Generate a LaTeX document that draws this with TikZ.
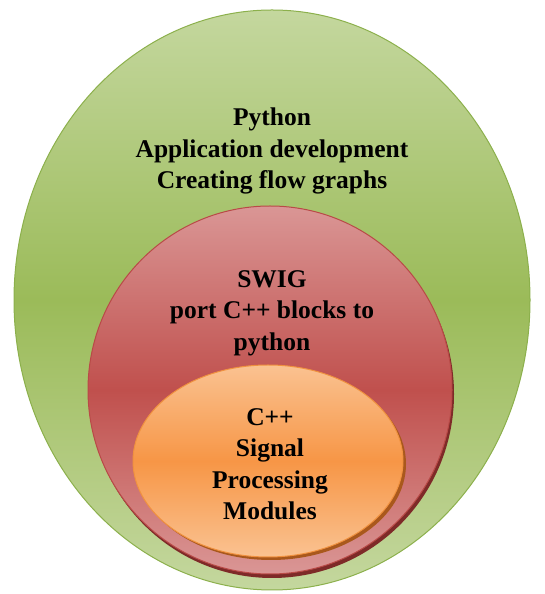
\documentclass[tikz,border=0pt]{standalone}
\usepackage{fontspec}
\setmainfont{Liberation Serif}
\usetikzlibrary{calc}

\definecolor{grnlight}{HTML}{C4D79E}
\definecolor{grnmid}{HTML}{9BBB59}
\definecolor{grnline}{HTML}{8CB04C}
\definecolor{redlight}{HTML}{DA9695}
\definecolor{redmid}{HTML}{C0504D}
\definecolor{redline}{HTML}{B94A47}
\definecolor{redshade}{HTML}{7E2A28}
\definecolor{orglight}{HTML}{FAC291}
\definecolor{orgmid}{HTML}{F79646}
\definecolor{orgline}{HTML}{F0913F}
\definecolor{orgshade}{HTML}{A9581C}

\tikzset{
  layer/.style={line width=1pt},
  label/.style={align=center, inner sep=0pt}
}

\begin{document}
\begin{tikzpicture}[x=1pt,y=1pt,font=\bfseries\fontsize{25.5}{31.5}\selectfont]
\useasboundingbox (0,0) rectangle (545,594);

\coordinate (o) at (272,294);
\coordinate (r) at (270,204);
\coordinate (c) at (268,133);

% python
\shade[layer, top color=grnlight, bottom color=grnlight, middle color=grnmid, draw=grnline]
  (o) ellipse [x radius=258, y radius=290];

% swig
\fill[redshade] ($(r)+(2,-4)$) ellipse [x radius=182, y radius=184];
\shade[layer, top color=redlight, bottom color=redlight, middle color=redmid, draw=redline]
  (r) ellipse [x radius=182, y radius=184];

% c++
\fill[orgshade] ($(c)+(3,-3)$) ellipse [x radius=135, y radius=96];
\shade[layer, top color=orglight, bottom color=orglight, middle color=orgmid, draw=orgline]
  (c) ellipse [x radius=135, y radius=96];

\node[label] (py) at (272,443) {Python\\Application development\\Creating flow graphs};
\node[label] (sw) at (272,281) {SWIG\\port C++ blocks to\\python};
\node[label] (cpp) at (270,130) {C++\\Signal\\Processing\\Modules};

\end{tikzpicture}
\end{document}
